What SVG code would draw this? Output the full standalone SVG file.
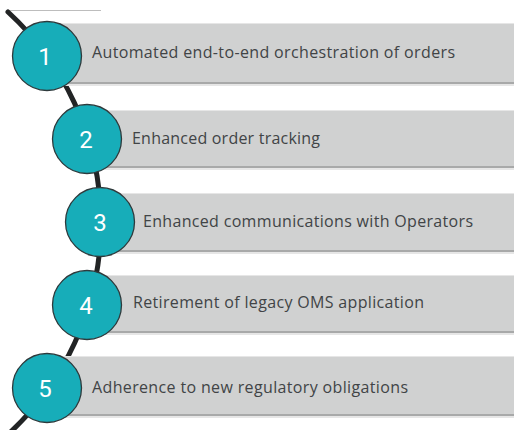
<svg xmlns="http://www.w3.org/2000/svg" width="514" height="430" viewBox="0 0 514 430">
  <defs>
    <style>
      .bar { fill: #d0d1d1; }
      .bar-edge { fill: #a8a9a9; }
      .bar-haze { fill: #e6e6e6; }
      .badge { fill: #17adb9; stroke: #2e3a3c; stroke-width: 1.3; }
      .num { fill: #ffffff; font-family: Roboto, "Liberation Sans", sans-serif; font-size: 24px; text-anchor: middle; dominant-baseline: central; }
      .label { fill: #414446; font-family: "Open Sans", "Liberation Sans", sans-serif; font-size: 16px; dominant-baseline: central; }
      .spine { fill: none; stroke: #222425; stroke-width: 5; stroke-linecap: round; }
    </style>
  </defs>
  <rect width="514" height="430" fill="#ffffff"/>

  <!-- rule under the heading -->
  <line x1="8" y1="10.5" x2="101" y2="10.5" stroke="#bdbdbd" stroke-width="1"/>

  <!-- spine connecting the numbered steps -->
  <g id="connectors">
    <path class="spine" d="M 8 12 A 286.5 286.5 0 0 1 8.4 434"/>
  </g>

  <g id="step1">
    <rect class="bar-haze" x="47" y="23" width="467" height="63"/>
    <rect class="bar" x="47" y="24" width="467" height="59"/>
    <rect class="bar-edge" x="47" y="82" width="467" height="2"/>
    <circle class="badge" cx="47" cy="56" r="34.5"/>
    <text class="num" x="45" y="57">1</text>
    <text class="label" x="92" y="52" textLength="363">Automated end-to-end orchestration of orders</text>
  </g>

  <g id="step2">
    <rect class="bar-haze" x="87" y="110" width="427" height="60"/>
    <rect class="bar" x="87" y="111" width="427" height="56"/>
    <rect class="bar-edge" x="87" y="166" width="427" height="2"/>
    <circle class="badge" cx="87" cy="139" r="34.5"/>
    <text class="num" x="86" y="140">2</text>
    <text class="label" x="132" y="138" textLength="188">Enhanced order tracking</text>
  </g>

  <g id="step3">
    <rect class="bar-haze" x="100" y="193" width="414" height="61"/>
    <rect class="bar" x="100" y="194" width="414" height="57"/>
    <rect class="bar-edge" x="100" y="250" width="414" height="2"/>
    <circle class="badge" cx="100" cy="222" r="34.5"/>
    <text class="num" x="100" y="223">3</text>
    <text class="label" x="143" y="221" textLength="330">Enhanced communications with Operators</text>
  </g>

  <g id="step4">
    <rect class="bar-haze" x="87" y="275" width="427" height="60"/>
    <rect class="bar" x="87" y="276" width="427" height="56"/>
    <rect class="bar-edge" x="87" y="331" width="427" height="2"/>
    <circle class="badge" cx="87" cy="305" r="34.5"/>
    <text class="num" x="86" y="306">4</text>
    <text class="label" x="133" y="302" textLength="291">Retirement of legacy OMS application</text>
  </g>

  <g id="step5">
    <rect class="bar-haze" x="47" y="356" width="467" height="62"/>
    <rect class="bar" x="47" y="357" width="467" height="58"/>
    <rect class="bar-edge" x="47" y="414" width="467" height="2"/>
    <circle class="badge" cx="47" cy="388" r="34.5"/>
    <text class="num" x="45" y="389">5</text>
    <text class="label" x="92" y="387" textLength="316">Adherence to new regulatory obligations</text>
  </g>
</svg>
